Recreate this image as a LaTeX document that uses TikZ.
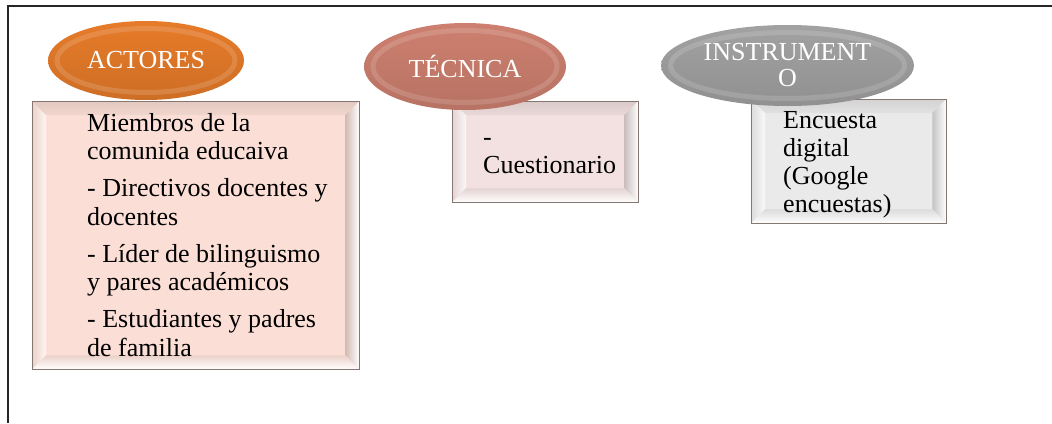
\documentclass[tikz,border=0pt]{standalone}
\usepackage{fontspec}
\setmainfont{Liberation Serif}
\usetikzlibrary{shapes.geometric,calc}

\definecolor{actfill}{HTML}{FBDFD6}
\definecolor{tecfill}{HTML}{F3E1E1}
\definecolor{insfill}{HTML}{EAEAEA}
\definecolor{actoval}{HTML}{F5832C}
\definecolor{tecoval}{HTML}{DA8876}
\definecolor{insoval}{HTML}{ACACAC}
\definecolor{boxedge}{HTML}{857671}

\tikzset{
  frameline/.style={line width=1.5pt, black!85},
  boxnode/.style={rectangle, inner sep=0pt, anchor=north west},
  ovalnode/.style={ellipse, inner sep=0pt, text=white, align=center,
    font=\rmfamily\fontsize{26}{26}\selectfont},
  bodytext/.style={anchor=north west, inner sep=0pt, align=left,
    font=\rmfamily\fontsize{26}{28.3}\selectfont, text=black},
  glossring/.style={draw=white, opacity=0.14, line width=5pt},
  ovalshade/.style={top color=#1!94!black, middle color=#1!96!white, bottom color=#1!84!black},
}

% bevelled frame around a rectangular node: #1 node name, #2 base colour
\newcommand\bevelbox[2]{%
  \shade[left color=#2!94!black, right color=white!70!#2]
    let \p1=(#1.north west), \p2=(#1.south east) in
    (\x1,\y1) -- (\x1+14pt,\y1-14pt) -- (\x1+14pt,\y2+14pt) -- (\x1,\y2) -- cycle;
  \shade[top color=#2!90!black, bottom color=#2!96!black]
    let \p1=(#1.north west), \p2=(#1.south east) in
    (\x1,\y1) -- (\x2,\y1) -- (\x2-14pt,\y1-14pt) -- (\x1+14pt,\y1-14pt) -- cycle;
  \shade[left color=#2!84!black, right color=white]
    let \p1=(#1.north west), \p2=(#1.south east) in
    (\x2,\y1) -- (\x2,\y2) -- (\x2-14pt,\y2+14pt) -- (\x2-14pt,\y1-14pt) -- cycle;
  \shade[top color=#2!94!black, bottom color=white]
    let \p1=(#1.north west), \p2=(#1.south east) in
    (\x1,\y2) -- (\x2,\y2) -- (\x2-14pt,\y2+14pt) -- (\x1+14pt,\y2+14pt) -- cycle;
  \draw[boxedge, line width=0.9pt] (#1.north west) rectangle (#1.south east);
}

\begin{document}
\begin{tikzpicture}[x=1pt, y=-1pt]
  \useasboundingbox (0,0) rectangle (1052,423);
  \fill[white] (0,0) rectangle (1052,423);

  % outer frame (top and left edges)
  \coordinate (ftl) at (8,6);
  \coordinate (ftr) at (1052,6);
  \coordinate (fbl) at (8,423);
  \draw[frameline] (ftr) -- (ftl) -- (fbl);

  % ---------- content boxes ----------
  \node[boxnode, fill=actfill, minimum width=327pt, minimum height=268pt] (actbox) at (32,101) {};
  \bevelbox{actbox}{actfill}
  \node[boxnode, fill=tecfill, minimum width=186pt, minimum height=101pt] (tecbox) at (452,101) {};
  \bevelbox{tecbox}{tecfill}
  \node[boxnode, fill=insfill, minimum width=195pt, minimum height=124pt] (insbox) at (751,99) {};
  \bevelbox{insbox}{insfill}

  \node[bodytext] (acttext) at (87,111.1) {\strut Miembros de la\\comunida educaiva\\[9pt]
    - Directivos docentes y\\docentes\\[9pt]
    - Líder de bilinguismo\\y pares académicos\\[9pt]
    - Estudiantes y padres\\de familia};
  \node[bodytext] (tectext) at (483,125.4) {\strut -\\Cuestionario};
  \node[bodytext, font=\rmfamily\fontsize{26}{27.7}\selectfont] (instext) at (783,109.4)
    {\strut Encuesta\\digital\\(Google\\encuestas)};

  % ---------- header ovals ----------
  \node[ovalnode, minimum width=196pt, minimum height=79pt, ovalshade=actoval]
        (actoval) at (146,60.5) {};
  \draw[glossring] (actoval.center) ellipse [x radius=89pt, y radius=32pt];
  \node[ovalnode] (actlabel) at (actoval.center) {ACTORES};

  \node[ovalnode, minimum width=202pt, minimum height=87pt, ovalshade=tecoval]
        (tecoval) at (465,66.5) {};
  \draw[glossring] (tecoval.center) ellipse [x radius=92pt, y radius=36pt];
  \node[ovalnode] (teclabel) at (tecoval.center) {TÉCNICA};

  \node[ovalnode, minimum width=253pt, minimum height=81pt, ovalshade=insoval]
        (insoval) at (787.5,65.5) {};
  \draw[glossring] (insoval.center) ellipse [x radius=117pt, y radius=33pt];
  \node[ovalnode] (inslabel) at (insoval.center) {INSTRUMENT\\O};
\end{tikzpicture}
\end{document}
